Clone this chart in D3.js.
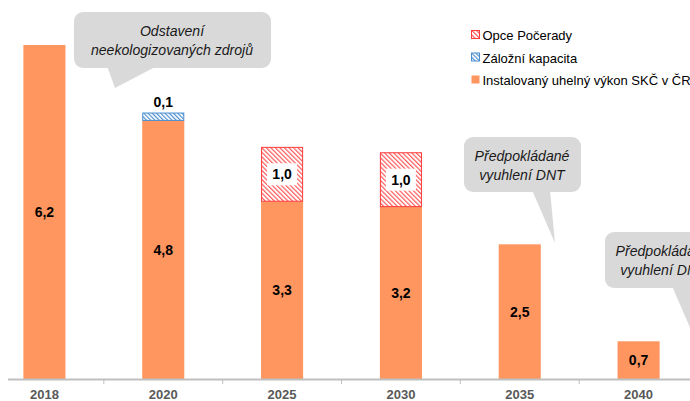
<!DOCTYPE html>
<html lang="cs">
<head>
<meta charset="UTF-8">
<title>Instalovaný uhelný výkon SKČ v ČR</title>
<script src="https://d3js.org/d3.v7.min.js"></script>
<style>
    body { margin: 0; background: #fff; font-family: Arial, "Liberation Sans", sans-serif; }
    svg { display: block; }
    .year { font-size: 13px; font-weight: bold; fill: #595959; }
    .val { font-size: 14px; font-weight: bold; fill: #000; }
    .legend text { font-size: 13px; fill: #000; }
    .callout text { font-size: 14.1px; font-style: italic; fill: #1a1a1a; }
</style>
</head>
<body>
<div id="chart"></div>
<script>
    // data (GW)
    const years = ["2018", "2020", "2025", "2030", "2035", "2040"];
    const installed = [6.2, 4.8, 3.3, 3.2, 2.5, 0.7];
    const reserve = [0, 0.1, 0, 0, 0, 0];
    const pocerady = [0, 0, 1.0, 1.0, 0, 0];
    const seriesNames = ["Opce Počerady", "Záložní kapacita", "Instalovaný uhelný výkon SKČ v ČR"];

    const W = 690, H = 401;
    const baseY = 379;

    const svg = d3.select("#chart").append("svg")
        .attr("width", W).attr("height", H);

    const defs = svg.append("defs");
    function hatch(id, color, size) {
        const p = defs.append("pattern")
            .attr("id", id)
            .attr("patternUnits", "userSpaceOnUse")
            .attr("width", size).attr("height", size)
            .attr("patternTransform", "rotate(-45)");
        p.append("rect").attr("width", size).attr("height", size).attr("fill", "#fff");
        p.append("line").attr("x1", 0).attr("y1", 0).attr("x2", 0).attr("y2", size)
            .attr("stroke", color).attr("stroke-width", 2.4);
    }
    hatch("hRed", "#ff5a5a", 3.2);
    hatch("hBlue", "#4a8fd0", 3);

    const x = d3.scaleBand()
        .domain(years)
        .range([-15, 698])
        .paddingInner(0.646)
        .paddingOuter(0.323);

    const y = d3.scaleLinear()
        .domain([0, 6.2])
        .range([baseY, 45]);

    const rows = years.map((yr, i) => ({ year: yr, installed: installed[i], reserve: reserve[i], pocerady: pocerady[i] }));

    // installed bars
    svg.append("g").selectAll("rect")
        .data(rows).enter().append("rect")
        .attr("x", d => x(d.year))
        .attr("width", x.bandwidth())
        .attr("y", d => y(d.installed))
        .attr("height", d => y(0) - y(d.installed))
        .attr("fill", "#ff9660");

    // reserve capacity
    svg.append("g").selectAll("rect")
        .data(rows.filter(d => d.reserve > 0)).enter().append("rect")
        .attr("x", d => x(d.year) + 0.5)
        .attr("width", x.bandwidth() - 1)
        .attr("y", d => y(d.installed + d.reserve) - 2)
        .attr("height", d => y(d.installed) - y(d.installed + d.reserve) + 2)
        .attr("fill", "url(#hBlue)")
        .attr("stroke", "#4a8fd0").attr("stroke-width", 1);

    // Pocerady option
    const poc = rows.filter(d => d.pocerady > 0);
    svg.append("g").selectAll("rect")
        .data(poc).enter().append("rect")
        .attr("x", d => x(d.year) + 0.5)
        .attr("width", x.bandwidth() - 1)
        .attr("y", d => y(d.installed + d.pocerady))
        .attr("height", d => y(d.installed) - y(d.installed + d.pocerady))
        .attr("fill", "url(#hRed)")
        .attr("stroke", "#ff3b3b").attr("stroke-width", 1);

    const fmt = v => d3.format(".1f")(v).replace(".", ",");

    // labels in installed bars
    svg.append("g").selectAll("text")
        .data(rows).enter().append("text")
        .attr("class", "val")
        .attr("text-anchor", "middle")
        .attr("x", d => x(d.year) + x.bandwidth() / 2)
        .attr("y", d => (y(0) + y(d.installed)) / 2 + 5)
        .text(d => fmt(d.installed));

    // labels in Pocerady boxes, on white
    const pl = svg.append("g").selectAll("g")
        .data(poc).enter().append("g")
        .attr("transform", d => `translate(${x(d.year) + x.bandwidth() / 2},${(y(d.installed) + y(d.installed + d.pocerady)) / 2})`);
    pl.append("rect").attr("x", -15).attr("y", -11).attr("width", 30).attr("height", 22).attr("fill", "#fff");
    pl.append("text").attr("class", "val").attr("text-anchor", "middle").attr("y", 5).text(d => fmt(d.pocerady));

    // label above reserve
    svg.append("g").selectAll("text")
        .data(rows.filter(d => d.reserve > 0)).enter().append("text")
        .attr("class", "val")
        .attr("text-anchor", "middle")
        .attr("x", d => x(d.year) + x.bandwidth() / 2)
        .attr("y", d => y(d.installed + d.reserve) - 8)
        .text(d => fmt(d.reserve));

    // x axis
    const ax = svg.append("g");
    ax.append("line").attr("x1", 8).attr("x2", W).attr("y1", baseY + 0.5).attr("y2", baseY + 0.5)
        .attr("stroke", "#bfbfbf").attr("stroke-width", 2);
    ax.selectAll("line.tick")
        .data(years.slice(1)).enter().append("line")
        .attr("class", "tick")
        .attr("x1", d => x(d) - x.step() * x.paddingInner() / 2)
        .attr("x2", d => x(d) - x.step() * x.paddingInner() / 2)
        .attr("y1", baseY).attr("y2", baseY + 5)
        .attr("stroke", "#bfbfbf").attr("stroke-width", 1);
    ax.selectAll("text")
        .data(years).enter().append("text")
        .attr("class", "year")
        .attr("text-anchor", "middle")
        .attr("x", d => x(d) + x.bandwidth() / 2)
        .attr("y", 399)
        .text(d => d);

    // legend
    const lg = svg.append("g").attr("class", "legend").attr("transform", "translate(471,0)");
    const swatch = ["url(#hRed)", "url(#hBlue)", "#ff9660"];
    const swStroke = ["#ff3b3b", "#4a8fd0", "none"];
    seriesNames.forEach((n, i) => {
        const g = lg.append("g").attr("transform", `translate(0,${35 + i * 22.5})`);
        g.append("rect").attr("x", 0.5).attr("y", -4.5).attr("width", 8).attr("height", 8)
            .attr("fill", swatch[i]).attr("stroke", swStroke[i]);
        g.append("text").attr("x", 11.5).attr("y", 5).text(n);
    });

    // callouts
    function callout(rx, ry, rw, rh, ptr, lines, tx) {
        const g = svg.append("g").attr("class", "callout");
        g.append("path")
            .attr("d", `M${ptr[0]},${ptr[1]}L${ptr[2]},${ptr[3]}L${ptr[4]},${ptr[5]}Z`)
            .attr("fill", "#d9d9d9");
        g.append("rect").attr("x", rx).attr("y", ry).attr("width", rw).attr("height", rh)
            .attr("rx", 9).attr("fill", "#d9d9d9");
        lines.forEach((t, i) => {
            g.append("text").attr("text-anchor", "middle")
                .attr("x", tx).attr("y", ry + 24 + i * 19).text(t);
        });
    }
    callout(74, 12, 197, 56, [107, 66, 157, 66, 115, 88], ["Odstavení", "neekologizovaných zdrojů"], 172);
    callout(464, 137, 117, 55, [532, 190, 550, 190, 555, 243], ["Předpokládané", "vyuhlení DNT"], 522);
    callout(605, 232, 117, 56, [672, 286, 690, 286, 695, 339], ["Předpokládané", "vyuhlení DNT"], 663);
</script>
</body>
</html>
